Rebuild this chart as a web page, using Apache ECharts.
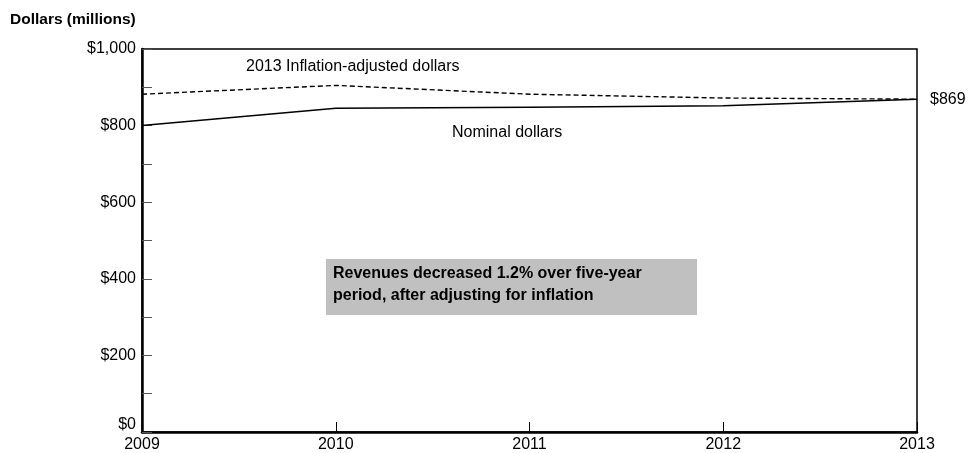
<!DOCTYPE html>
<html><head><meta charset="utf-8">
<script src="https://cdn.jsdelivr.net/npm/echarts@6/dist/echarts.min.js"></script>
<style>html,body{margin:0;padding:0;background:#fff}#c{width:968px;height:453px}</style>
</head><body><div id="c"></div>
<script>
const years = ['2009','2010','2011','2012','2013'];
const nominal = [800, 845, 848, 852, 869];
const adjusted = [882, 905, 882, 872, 869];
const yTicks = [0, 200, 400, 600, 800, 1000];
const FONT = '"Liberation Sans",Arial,sans-serif';
const chart = echarts.init(document.getElementById('c'));
chart.setOption({
  animation: false,
  backgroundColor: '#fff',
  textStyle: {fontFamily: FONT},
  grid: {left: 142, right: 51, top: 49, bottom: 21, show: true, borderColor: '#000', borderWidth: 1.5, containLabel: false},
  xAxis: {
    type: 'category', data: years, boundaryGap: false,
    axisLine: {lineStyle: {color: '#000', width: 2.5}},
    axisTick: {inside: true, length: 10, lineStyle: {color: '#000', width: 1}},
    axisLabel: {color: '#000', fontSize: 16, fontFamily: FONT, margin: 5, showMinLabel: true, showMaxLabel: true}
  },
  yAxis: {
    type: 'value', min: 0, max: 1000, interval: 100,
    splitLine: {show: false},
    axisLine: {show: true, lineStyle: {color: '#000', width: 2.5}},
    axisTick: {show: true, inside: true, length: 10, lineStyle: {color: '#555', width: 1}},
    axisLabel: {color: '#000', fontSize: 16, fontFamily: FONT, margin: 6,
      formatter: v => !yTicks.includes(v) ? '' : (v === 0 ? '{z|$0}' : '$' + v.toLocaleString('en-US')),
      rich: {z: {fontSize: 16, fontFamily: FONT, color: '#000', padding: [0, 0, 14, 0]}}}
  },
  series: [
    {type: 'line', name: 'Nominal dollars', data: nominal, symbol: 'none',
     lineStyle: {color: '#000', width: 1.5},
     endLabel: {show: true, formatter: p => '$' + p.value, color: '#000', fontSize: 16, fontFamily: FONT, distance: 13}},
    {type: 'line', name: '2013 Inflation-adjusted dollars', data: adjusted, symbol: 'none',
     lineStyle: {color: '#000', width: 1.4, type: [5, 3]}}
  ],
  graphic: [
    {type: 'text', left: 10, top: 12, style: {text: 'Dollars (millions)', font: 'bold 15.5px ' + FONT, fill: '#000'}},
    {type: 'text', left: 246, top: 59, style: {text: '2013 Inflation-adjusted dollars', font: '16px ' + FONT, fill: '#000'}},
    {type: 'text', left: 452, top: 125, style: {text: 'Nominal dollars', font: '16px ' + FONT, fill: '#000'}},
    {type: 'rect', shape: {x: 326, y: 259, width: 371, height: 56}, style: {fill: '#c0c0c0'}},
    {type: 'text', left: 333, top: 263, style: {text: 'Revenues decreased 1.2% over five-year\nperiod, after adjusting for inflation', font: 'bold 16px ' + FONT, fill: '#000', lineHeight: 22}}
  ]
});
</script></body></html>
